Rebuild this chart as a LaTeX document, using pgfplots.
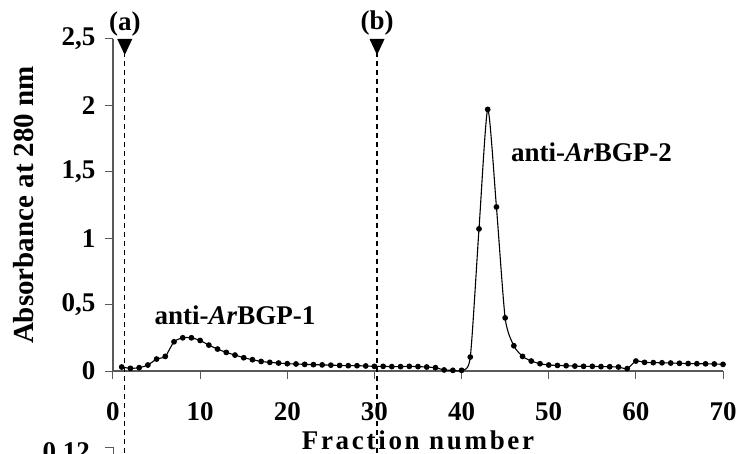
\documentclass[border=0pt]{standalone}
\usepackage{fontspec}
\setmainfont{Liberation Serif}
\usepackage{pgfplots}
\pgfplotsset{compat=1.18}

\pgfplotstableread{
x y
1 0.030
2 0.020
3 0.025
4 0.045
5 0.090
6 0.110
7 0.220
8 0.250
9 0.250
10 0.230
11 0.195
12 0.165
13 0.140
14 0.120
15 0.100
16 0.085
17 0.072
18 0.065
19 0.060
20 0.055
21 0.053
22 0.050
23 0.048
24 0.046
25 0.044
26 0.042
27 0.040
28 0.040
29 0.038
30 0.035
31 0.035
32 0.033
33 0.033
34 0.035
35 0.033
36 0.030
37 0.025
38 0.008
39 0.005
40 0.005
41 0.105
42 1.070
43 1.970
44 1.235
45 0.400
46 0.190
47 0.110
48 0.075
49 0.055
50 0.045
51 0.042
52 0.040
53 0.037
54 0.035
55 0.035
56 0.033
57 0.032
58 0.030
59 0.018
60 0.075
61 0.065
62 0.063
63 0.062
64 0.060
65 0.058
66 0.056
67 0.055
68 0.054
69 0.053
70 0.050
}\elution

\newcommand{\lblfont}{\fontsize{27bp}{30bp}\selectfont\bfseries}

\begin{document}
\begin{tikzpicture}
\begin{axis}[
  scale only axis,
  width=610bp, height=332bp,
  xmin=0, xmax=70, ymin=0, ymax=2.5,
  axis x line=bottom, axis y line=left,
  axis line style={-, gray!70!black, line width=1.1bp},
  tick style={gray!70!black, line width=1bp},
  tick align=outside, major tick length=8bp,
  xtick={0,10,...,70},
  xticklabels={0,10,20,30,40,50,60,70},
  ytick={0,0.5,1,1.5,2,2.5},
  yticklabels={0,{0,5},1,{1,5},2,{2,5}},
  tick label style={font=\lblfont},
  xticklabel shift=20bp,
  yticklabel shift=6bp,
  clip=false,
]
\addplot[black, line width=1.1bp, smooth, tension=0.4,
  mark=*, mark size=2.3bp, mark options={solid, fill=black}]
  table[x=x, y=y] {\elution};

% fraction markers
\draw[dashed, dash pattern=on 5bp off 4bp, line width=1.1bp]
  (axis cs:1.35,2.4) -- (axis cs:1.35,-0.75);
\draw[dashed, dash pattern=on 5bp off 4bp, line width=1.1bp]
  (axis cs:30.3,2.4) -- (axis cs:30.3,-0.75);
\fill (axis cs:1.35,2.5) ++(-7.5bp,0) -- ++(15bp,0) -- ++(-7.5bp,-16bp) -- cycle;
\fill (axis cs:30.3,2.5) ++(-7.5bp,0) -- ++(15bp,0) -- ++(-7.5bp,-16bp) -- cycle;
\node[font=\lblfont] at (axis cs:1.35,2.61) {(a)};
\node[font=\lblfont] at (axis cs:30.3,2.62) {(b)};

\node[font=\lblfont] at (axis cs:14.0,0.42) {anti-\textit{Ar}BGP-1};
\node[font=\lblfont] at (axis cs:54.9,1.65) {anti-\textit{Ar}BGP-2};
\end{axis}

% axis titles
\node[font=\fontsize{27bp}{30bp}\selectfont\bfseries\addfontfeature{LetterSpace=10}]
  at (305bp,-69bp) {Fraction number};
\node[font=\fontsize{29bp}{32bp}\selectfont\bfseries, rotate=90]
  at (-89bp,166bp) {Absorbance at 280 nm};

% top of the panel below (cut off)
\node[font=\lblfont, anchor=north east, inner sep=0] at (-23bp,-71bp) {0,12};
\draw[gray!70!black, line width=1bp] (-8bp,-76bp) -- (0,-76bp) -- (0,-95bp);

\pgfresetboundingbox
\path[use as bounding box] (-113bp,-83bp) rectangle (628bp,371bp);
\end{tikzpicture}
\end{document}
